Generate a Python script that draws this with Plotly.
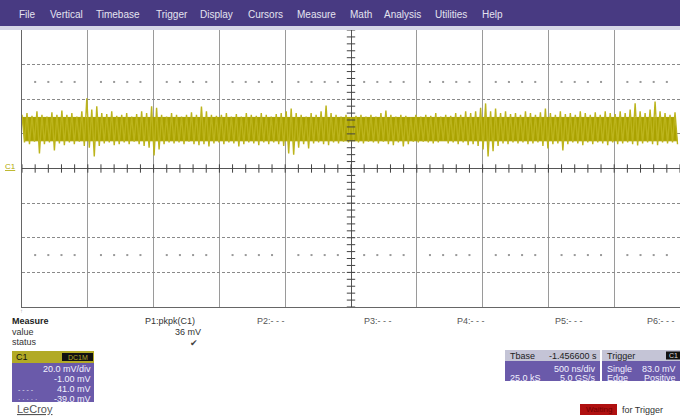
import numpy as np
import plotly.graph_objects as go

# ---- data ----
# per-column peak values of the C1 noise trace, in mV (132 columns across 10 div = 5 us)
trace_hi_mv = [
    31, 32, 30.5, 33, 31, 30, 32.5, 31, 33.5, 31,
    32, 30, 33, 40.5, 34, 36, 32, 31.5, 33, 30.5,
    31, 32, 30, 31.5, 33, 32, 36, 35, 31, 30,
    32, 31, 30, 31, 32.5, 31, 35.8, 33, 31, 30.5,
    31, 32, 30, 31.5, 30, 32, 31, 30.5, 32, 31,
    30, 31.5, 32, 33, 34.7, 32, 31, 30, 32, 31,
    33, 36.4, 32, 31, 30, 31, 29.5, 30.5, 31, 30,
    31, 30, 32, 33.5, 31, 30, 31, 30.5, 29.5, 31,
    30, 31, 30.5, 32, 30, 31, 30.5, 32, 31, 33,
    32, 33, 35, 37.6, 33, 34.7, 32, 33, 31.5, 32,
    31, 33, 32, 31, 32.5, 34.7, 32, 31, 33, 31.5,
    32, 31, 33, 32, 31, 32.5, 31, 33, 32, 31.5,
    33, 32, 34, 37.6, 33, 32, 34, 38.7, 33, 32, 31, 32.5,
]
trace_lo_mv = [
    15, 14, 15.5, 8.7, 14, 15, 10.4, 14.5, 13.5, 15,
    14, 15.5, 13, 12, 6.9, 13, 14.5, 15, 13.5, 14,
    15, 14, 15.5, 14, 13, 12, 7.5, 11, 14, 15,
    14.5, 15, 14, 15.5, 14, 13.5, 14, 12.7, 14.5, 15,
    14, 15, 14.5, 12.7, 14, 15, 14.5, 13.5, 15, 14,
    15, 14, 13, 8.7, 8, 12, 14, 11.6, 14.5, 15,
    14, 13.5, 15, 14.5, 15.5, 15, 16, 15, 14.5, 15.5,
    15, 14.5, 15.5, 14, 13.5, 15, 12.7, 14, 15.5, 15,
    15.5, 15, 14.5, 15, 16, 14.5, 15, 14, 15, 13.5,
    14, 13, 11, 6.9, 10, 13, 14.5, 14, 15, 14.5,
    15, 14, 14.5, 15, 13, 11.6, 14, 14.5, 10.4, 14,
    15, 14.5, 13.5, 15, 14, 15, 14.5, 13.5, 15, 14,
    14.5, 15, 14, 13.3, 14.5, 15, 14, 13.5, 15, 14.5, 15, 14,
]
menu_items = ["File", "Vertical", "Timebase", "Trigger", "Display", "Cursors",
              "Measure", "Math", "Analysis", "Utilities", "Help"]
menu_x_px = [17, 48, 94, 154, 198, 246, 295, 348, 382, 433, 480]
param_labels = ["P2:- - -", "P3:- - -", "P4:- - -", "P5:- - -", "P6:- - -"]
param_x_px = [255, 362, 455, 553, 645]
p1_name = "P1:pkpk(C1)"
p1_value = "36 mV"
c1_rows = ["20.0 mV/div", "-1.00 mV", "41.0 mV", "-39.0 mV"]
tbase_value = "-1.456600 s"
tbase_rows = ["500 ns/div", "25.0 kS", "5.0 GS/s"]
trig_rows = [("Single", "83.0 mV"), ("Edge", "Positive")]

VOLT_DIV = 20.0   # mV/div
TIME_DIV = 0.5    # us/div
N_DIV_X, N_DIV_Y = 10, 8

# ---- layout geometry ----
W, H = 680, 417
L, R, T, B = 22, 0, 30, 110
PW, PH = W - L - R, H - T - B

def px(x):
    return (x - L) / PW

def py(y):
    return (H - B - y) / PH

FONT = "Liberation Sans, Arial, sans-serif"
TRACE = "#aaa200"
TRACE_LIGHT = "#bcb41c"

n = len(trace_hi_mv)
t0 = -N_DIV_X * TIME_DIV / 2
dt = N_DIV_X * TIME_DIV / n
t_hi = [t0 + i * dt for i in range(n)]
t_lo = [t0 + (i + 0.5) * dt for i in range(n)]
xs, ys = [], []
for i in range(n):
    xs += [t_hi[i], t_lo[i]]
    ys += [trace_hi_mv[i], trace_lo_mv[i]]
# dense core of the trace: peaks clipped to the bulk of the noise band
core_hi = [min(v, 29.5) for v in trace_hi_mv]
core_lo = [max(v, 16.0) for v in trace_lo_mv]

fig = go.Figure()
fig.add_trace(go.Scatter(x=t_hi, y=core_hi, mode="lines",
                         line=dict(color=TRACE, width=1), hoverinfo="skip"))
fig.add_trace(go.Scatter(x=t_lo, y=core_lo, mode="lines", fill="tonexty",
                         fillcolor=TRACE, line=dict(color=TRACE, width=1), hoverinfo="skip"))
fig.add_trace(go.Scatter(x=xs, y=ys, mode="lines",
                         line=dict(color=TRACE_LIGHT, width=1.4), hoverinfo="skip"))

# centre-cross minor ticks and dotted rows
xr = N_DIV_X * TIME_DIV / 2
yr = N_DIV_Y * VOLT_DIV / 2
tx = np.arange(-xr, xr + 1e-9, TIME_DIV / 5)
ty = np.arange(-yr, yr + 1e-9, VOLT_DIV / 5)
fig.add_trace(go.Scatter(x=tx, y=np.zeros_like(tx), mode="markers",
                         marker=dict(symbol="line-ns", size=6, line=dict(color="#444", width=1)),
                         hoverinfo="skip"))
fig.add_trace(go.Scatter(x=np.zeros_like(ty), y=ty, mode="markers",
                         marker=dict(symbol="line-ew", size=6, line=dict(color="#444", width=1)),
                         hoverinfo="skip"))
dot_x = [v for v in tx if abs(round(v / TIME_DIV) * TIME_DIV - v) > 1e-6]
for yy in (2.5 * VOLT_DIV, -2.5 * VOLT_DIV):
    fig.add_trace(go.Scatter(x=dot_x, y=[yy] * len(dot_x), mode="markers",
                             marker=dict(symbol="square", size=2, color="#999", line=dict(width=0)),
                             hoverinfo="skip"))

fig.update_xaxes(range=[-xr, xr], dtick=TIME_DIV, tick0=0, showticklabels=False, ticks="",
                 showgrid=True, gridcolor="#9a9a9a", gridwidth=1,
                 zeroline=True, zerolinecolor="#555", zerolinewidth=1,
                 showline=True, linecolor="#666", linewidth=1, mirror=True, fixedrange=True)
fig.update_yaxes(range=[-yr, yr], dtick=VOLT_DIV, tick0=0, showticklabels=False, ticks="",
                 showgrid=True, gridcolor="#8a8a8a", gridwidth=1, griddash="3px,2px",
                 zeroline=True, zerolinecolor="#555", zerolinewidth=1,
                 showline=True, linecolor="#666", linewidth=1, mirror=True, fixedrange=True)

shapes, ann = [], []

def rect(x0, y0, x1, y1, color):
    shapes.append(dict(type="rect", xref="paper", yref="paper", layer="above",
                       x0=px(x0), x1=px(x1), y0=py(y1), y1=py(y0),
                       fillcolor=color, line=dict(width=0)))

def text(x, y, s, size=9, color="#333", anchor="left", bold=False):
    if bold:
        s = "<b>" + s + "</b>"
    ann.append(dict(xref="paper", yref="paper", x=px(x), y=py(y), text=s,
                    showarrow=False, xanchor=anchor, yanchor="middle",
                    font=dict(family=FONT, size=size, color=color)))

# menu bar
rect(0, 0, W, 26, "#483a82")
rect(0, 26, W, 30, "#d6d6e6")
for lab, x in zip(menu_items, menu_x_px):
    text(x, 14, lab, size=10, color="#e4e4f0")

# C1 marker
text(3, 166, "<u>C1</u>", size=8, color="#b0a800")

# measurement table
text(10, 321, "Measure", bold=True, color="#222")
text(10, 332, "value")
text(10, 342, "status")
text(143, 321, p1_name)
text(203, 332, p1_value, anchor="right")
text(200, 343, "✔", anchor="right", size=9, color="#444")
for lab, x in zip(param_labels, param_x_px):
    text(x, 321, lab, color="#555")

# C1 channel box
rect(12, 351, 94, 402, "#6a5aaa")
rect(12, 351, 94, 363, "#b2aa26")
text(14, 357, "C1", size=9, color="#111")
rect(62, 353, 93, 361, "#111")
text(77.5, 357, "DC1M", size=7, color="#b2aa26", anchor="center")
for i, s in enumerate(c1_rows):
    text(93, 369 + i * 10, s, anchor="right", color="#f2f2ff")
text(16, 389, "- - - -", size=7, color="#e0e0f0")
text(16, 399, "· · · · ·", size=7, color="#e0e0f0")

# timebase box
rect(505, 350, 600, 381, "#6a5aaa")
rect(505, 350, 600, 361, "#c4c4d6")
text(508, 355.5, "Tbase", color="#222")
text(599, 355.5, tbase_value, anchor="right", color="#222")
text(598, 369, tbase_rows[0], anchor="right", color="#f2f2ff")
text(508, 378, tbase_rows[1], color="#f2f2ff")
text(598, 378, tbase_rows[2], anchor="right", color="#f2f2ff")

# trigger box
rect(602, 350, 680, 381, "#6a5aaa")
rect(602, 350, 680, 361, "#c4c4d6")
text(605, 355.5, "Trigger", color="#222")
rect(666, 351.5, 680, 359.5, "#111")
text(667, 355.5, "C1", size=7, color="#ddd")
for i, (a, b) in enumerate(trig_rows):
    text(605, 369 + i * 9, a, color="#f2f2ff")
    text(678, 369 + i * 9, b, anchor="right", color="#f2f2ff")

# status
rect(580, 404, 617, 415, "#b01010")
text(598.5, 409.5, "Waiting", size=8, color="#700000", anchor="center")
text(620, 409.5, "for Trigger", color="#333")

# brand
text(15, 409, "<u>LeCroy</u>", size=11, color="#555")
text(18, 311, "↑", size=6, color="#aaa")

fig.update_layout(width=W, height=H, margin=dict(l=L, r=R, t=T, b=B, pad=0),
                  paper_bgcolor="white", plot_bgcolor="white", showlegend=False,
                  shapes=shapes, annotations=ann, font=dict(family=FONT))
fig.write_html("out.html", config={"displayModeBar": False},
               post_script="document.body.style.margin='0';document.body.style.overflow='hidden';")
